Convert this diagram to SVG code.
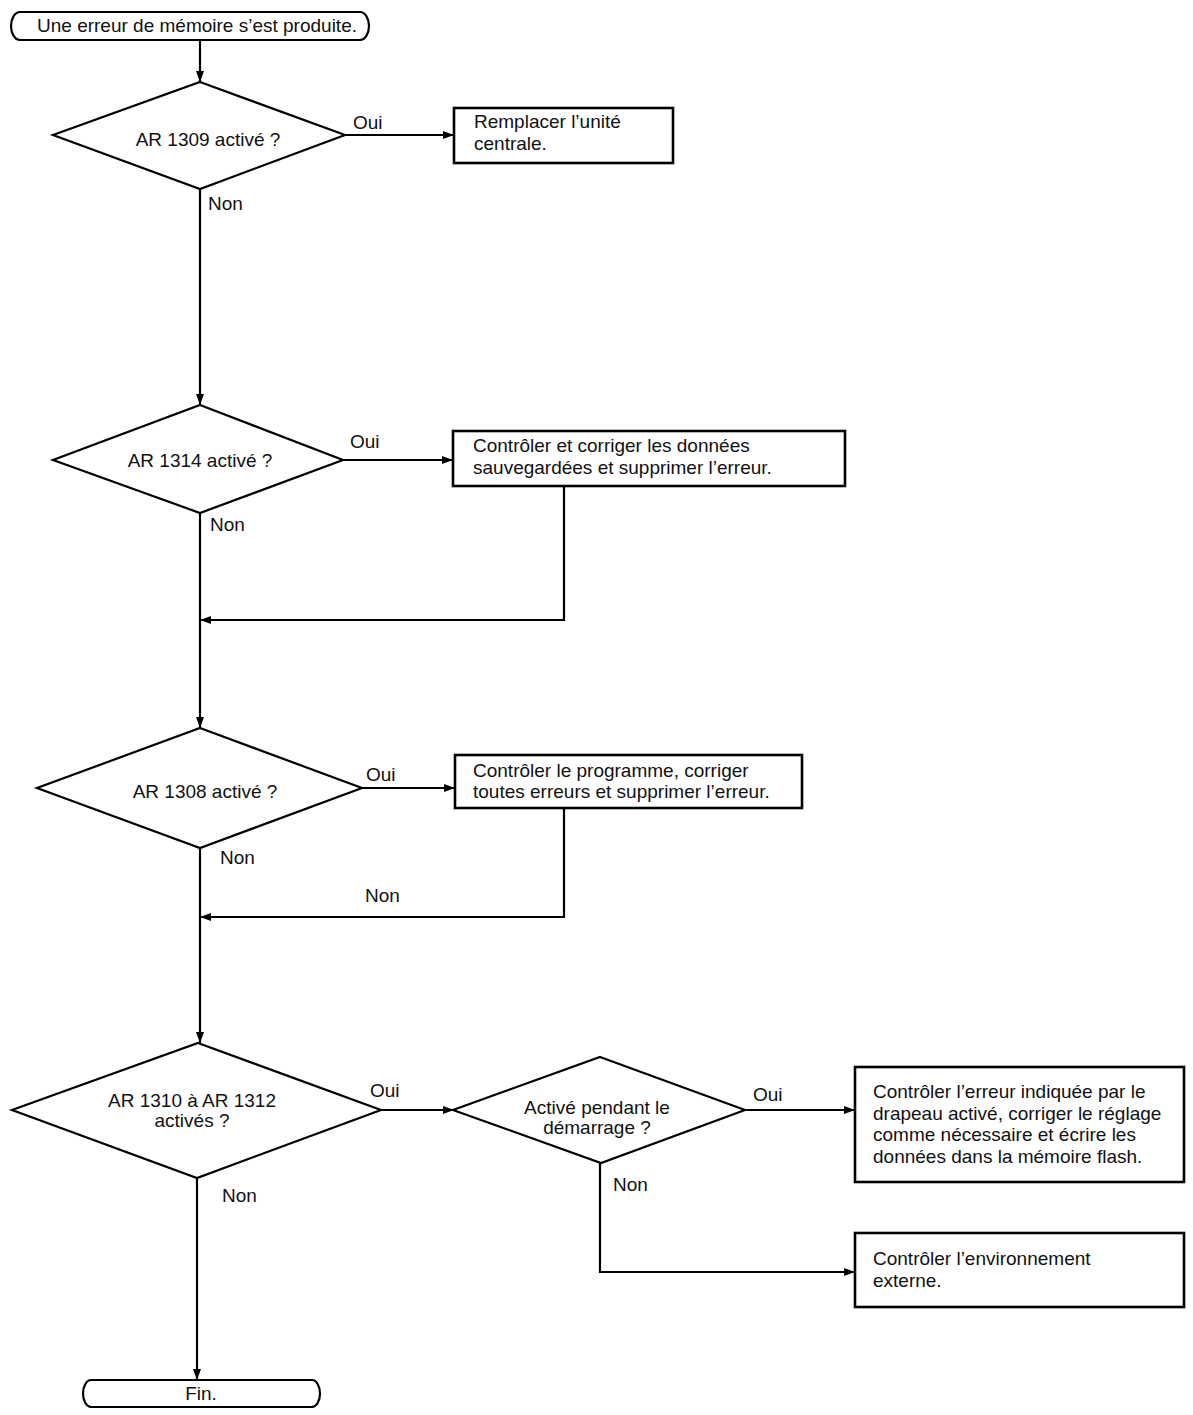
<svg xmlns="http://www.w3.org/2000/svg" width="1193" height="1415" viewBox="0 0 1193 1415">
<style>
.shape{fill:#fff;stroke:#000;stroke-width:2.2}
.box{fill:#fff;stroke:#000;stroke-width:2.6}
.ln{fill:none;stroke:#000;stroke-width:2.2}
text{font-family:"Liberation Sans",Arial,Helvetica,sans-serif;font-size:19px;fill:#111}
.c{text-anchor:middle}
</style>
<defs>
<marker id="ah" markerUnits="userSpaceOnUse" markerWidth="12" markerHeight="8" refX="11" refY="4" orient="auto">
<path d="M0,0 L11,4 L0,8 Z" fill="#000"/>
</marker>
</defs>
<rect width="1193" height="1415" fill="#fff"/>
<g id="connectors">
<path class="ln" d="M200,40 V82" marker-end="url(#ah)"/>
<path class="ln" d="M345,135 H454" marker-end="url(#ah)"/>
<path class="ln" d="M200,189 V405" marker-end="url(#ah)"/>
<path class="ln" d="M343,460 H453" marker-end="url(#ah)"/>
<path class="ln" d="M564,486 V620 H200" marker-end="url(#ah)"/>
<path class="ln" d="M200,513 V728" marker-end="url(#ah)"/>
<path class="ln" d="M362,788 H455" marker-end="url(#ah)"/>
<path class="ln" d="M564,808 V917 H200" marker-end="url(#ah)"/>
<path class="ln" d="M200,848 V1043" marker-end="url(#ah)"/>
<path class="ln" d="M381,1110 H454" marker-end="url(#ah)"/>
<path class="ln" d="M745,1110 H855" marker-end="url(#ah)"/>
<path class="ln" d="M600,1163 V1272 H855" marker-end="url(#ah)"/>
<path class="ln" d="M197,1178 V1380" marker-end="url(#ah)"/>
<text x="353" y="129">Oui</text>
<text x="208" y="210">Non</text>
<text x="350" y="448">Oui</text>
<text x="210" y="531">Non</text>
<text x="366" y="781">Oui</text>
<text x="220" y="864">Non</text>
<text x="365" y="902">Non</text>
<text x="370" y="1097">Oui</text>
<text x="222" y="1202">Non</text>
<text x="753" y="1101">Oui</text>
<text x="613" y="1191">Non</text>
</g>
<g id="start">
<path class="shape" d="M20,12 H360 A9,14 0 0 1 360,40 H20 A9,14 0 0 1 20,12 Z"/>
<text class="c" x="197" y="32">Une erreur de mémoire s’est produite.</text>
</g>
<g id="d1">
<polygon class="shape" points="200,82 345,135 200,189 53,135"/>
<text class="c" x="208" y="146">AR 1309 activé ?</text>
</g>
<g id="b1">
<rect class="box" x="454" y="108" width="219" height="55"/>
<text x="474" y="128">Remplacer l’unité</text>
<text x="474" y="150">centrale.</text>
</g>
<g id="d2">
<polygon class="shape" points="200,405 343,460 200,513 53,460"/>
<text class="c" x="200" y="467">AR 1314 activé ?</text>
</g>
<g id="b2">
<rect class="box" x="453" y="431" width="392" height="55"/>
<text x="473" y="452">Contrôler et corriger les données</text>
<text x="473" y="474">sauvegardées et supprimer l’erreur.</text>
</g>
<g id="d3">
<polygon class="shape" points="200,728 362,788 200,848 37,788"/>
<text class="c" x="205" y="798">AR 1308 activé ?</text>
</g>
<g id="b3">
<rect class="box" x="455" y="755" width="347" height="53"/>
<text x="473" y="777">Contrôler le programme, corriger</text>
<text x="473" y="798">toutes erreurs et supprimer l’erreur.</text>
</g>
<g id="d4">
<polygon class="shape" points="198,1043 381,1110 197,1178 12,1110"/>
<text class="c" x="192" y="1107">AR 1310 à AR 1312</text>
<text class="c" x="192" y="1127">activés ?</text>
</g>
<g id="d5">
<polygon class="shape" points="600,1057 745,1110 601,1163 453,1110"/>
<text class="c" x="597" y="1114">Activé pendant le</text>
<text class="c" x="597" y="1134">démarrage ?</text>
</g>
<g id="b5">
<rect class="box" x="855" y="1067" width="329" height="115"/>
<text x="873" y="1098">Contrôler l’erreur indiquée par le</text>
<text x="873" y="1120">drapeau activé, corriger le réglage</text>
<text x="873" y="1141">comme nécessaire et écrire les</text>
<text x="873" y="1163">données dans la mémoire flash.</text>
</g>
<g id="b6">
<rect class="box" x="855" y="1233" width="329" height="74"/>
<text x="873" y="1265">Contrôler l’environnement</text>
<text x="873" y="1287">externe.</text>
</g>
<g id="end">
<path class="shape" d="M91,1380 H312 A8,13.5 0 0 1 312,1407 H91 A8,13.5 0 0 1 91,1380 Z"/>
<text class="c" x="201" y="1400">Fin.</text>
</g>
</svg>
